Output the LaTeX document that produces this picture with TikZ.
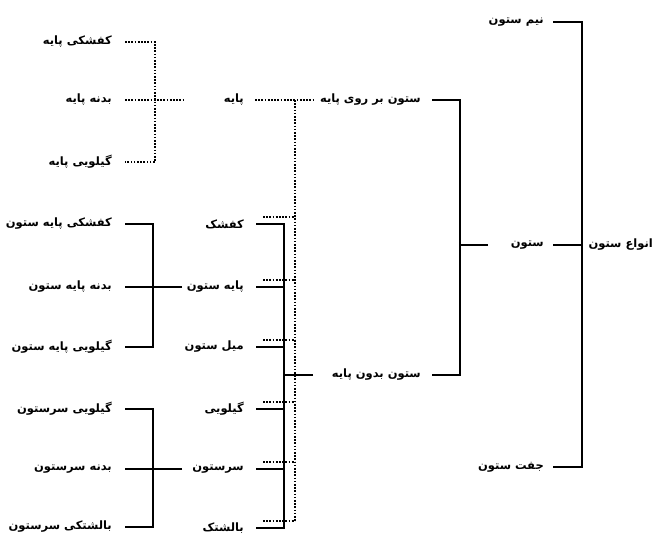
\documentclass[tikz,border=0pt]{standalone}
\usepackage{fontspec}
\newfontfamily\pfont[Script=Arabic]{DejaVu Sans}
\TeXXeTstate=1
\begin{document}
\begin{tikzpicture}[x=1pt,y=-1pt,
  lbl/.style={font=\pfont\bfseries\fontsize{11.5}{13}\selectfont, inner sep=0pt, anchor=east},
  solidln/.style={line width=2pt, black},
  dotln/.style={line width=1.7pt, dash pattern=on 1.7pt off 1.5pt, black}]
\useasboundingbox (0,0) rectangle (654,537);
% nodes
\node[lbl] (root) at (653,245) {\beginR انواع ستون\endR};
\node[lbl] (nim) at (544,22) {\beginR نیم ستون\endR};
\node[lbl] (sotun) at (544,245) {\beginR ستون\endR};
\node[lbl] (joft) at (544,467) {\beginR جفت ستون\endR};
\node[lbl] (barruy) at (421,100) {\beginR ستون بر روی پایه\endR};
\node[lbl] (bedun) at (421,375) {\beginR ستون بدون پایه\endR};
\node[lbl] (paye) at (244,100) {\beginR پایه\endR};
\node[lbl] (kafshak) at (244,224) {\beginR کفشک\endR};
\node[lbl] (psotun) at (244,287) {\beginR پایه ستون\endR};
\node[lbl] (mil) at (244,347) {\beginR میل ستون\endR};
\node[lbl] (gilui) at (244,409) {\beginR گیلویی\endR};
\node[lbl] (sarsotun) at (244,469) {\beginR سرستون\endR};
\node[lbl] (balesh) at (244,528) {\beginR بالشتک\endR};
\node[lbl] (kp) at (112,42) {\beginR کفشکی پایه\endR};
\node[lbl] (bp) at (112,100) {\beginR بدنه پایه\endR};
\node[lbl] (gp) at (112,162) {\beginR گیلویی پایه\endR};
\node[lbl] (kps) at (112,224) {\beginR کفشکی پایه ستون\endR};
\node[lbl] (bps) at (112,287) {\beginR بدنه پایه ستون\endR};
\node[lbl] (gps) at (112,347) {\beginR گیلویی پایه ستون\endR};
\node[lbl] (gs) at (112,409) {\beginR گیلویی سرستون\endR};
\node[lbl] (bs) at (112,469) {\beginR بدنه سرستون\endR};
\node[lbl] (bls) at (112,527) {\beginR بالشتکی سرستون\endR};
% junction columns
\coordinate (v0) at (582,0);
\coordinate (v1) at (460,0);
\coordinate (v2) at (284,0);
\coordinate (v3) at (153,0);
\coordinate (d1) at (295,0);
\coordinate (d2) at (155,0);
\coordinate (e1) at (488,0);
\coordinate (e2) at (313,0);
\coordinate (e3) at (182,0);
\coordinate (e4) at (183,0);
% solid connectors
\draw[solidln] ([xshift=9pt]nim.east) -- (nim.east -| v0) -- (joft.east -| v0) -- ([xshift=9pt]joft.east);
\draw[solidln] ([xshift=9pt]sotun.east) -- (sotun.east -| v0);
\draw[solidln] (sotun.west -| e1) -- (sotun.west -| v1);
\draw[solidln] ([xshift=11pt]barruy.east) -- (barruy.east -| v1) -- (bedun.east -| v1) -- ([xshift=11pt]bedun.east);
\draw[solidln] (bedun.west -| e2) -- (bedun.west -| v2);
\draw[solidln] ([xshift=12pt]kafshak.east) -- (kafshak.east -| v2) -- (balesh.east -| v2) -- ([xshift=12pt]balesh.east);
\foreach \n in {psotun,mil,gilui,sarsotun}
  \draw[solidln] ([xshift=12pt]\n.east) -- (\n.east -| v2);
\draw[solidln] (psotun.west -| e3) -- (psotun.west -| v3);
\draw[solidln] ([xshift=13pt]kps.east) -- (kps.east -| v3) -- (gps.east -| v3) -- ([xshift=13pt]gps.east);
\draw[solidln] ([xshift=13pt]bps.east) -- (bps.east -| v3);
\draw[solidln] (sarsotun.west -| e3) -- (sarsotun.west -| v3);
\draw[solidln] ([xshift=13pt]gs.east) -- (gs.east -| v3) -- (bls.east -| v3) -- ([xshift=13pt]bls.east);
\draw[solidln] ([xshift=13pt]bs.east) -- (bs.east -| v3);
% dotted connectors
\foreach \n in {kafshak,psotun,mil,gilui,sarsotun,balesh}
  \coordinate (\n-d) at ([shift={(19,-7)}]\n.east);
\draw[dotln] ([xshift=11pt]paye.east) -- ([xshift=-5pt]barruy.west);
\draw[dotln] (paye.east -| d1) -- (balesh-d -| d1);
\foreach \n in {kafshak,psotun,mil,gilui,sarsotun,balesh}
  \draw[dotln] (\n-d) -- (\n-d -| d1);
\draw[dotln] ([xshift=13pt]kp.east) -- (kp.east -| d2) -- (gp.east -| d2) -- ([xshift=13pt]gp.east);
\draw[dotln] ([xshift=13pt]bp.east) -- (bp.east -| e4);
\end{tikzpicture}
\end{document}
